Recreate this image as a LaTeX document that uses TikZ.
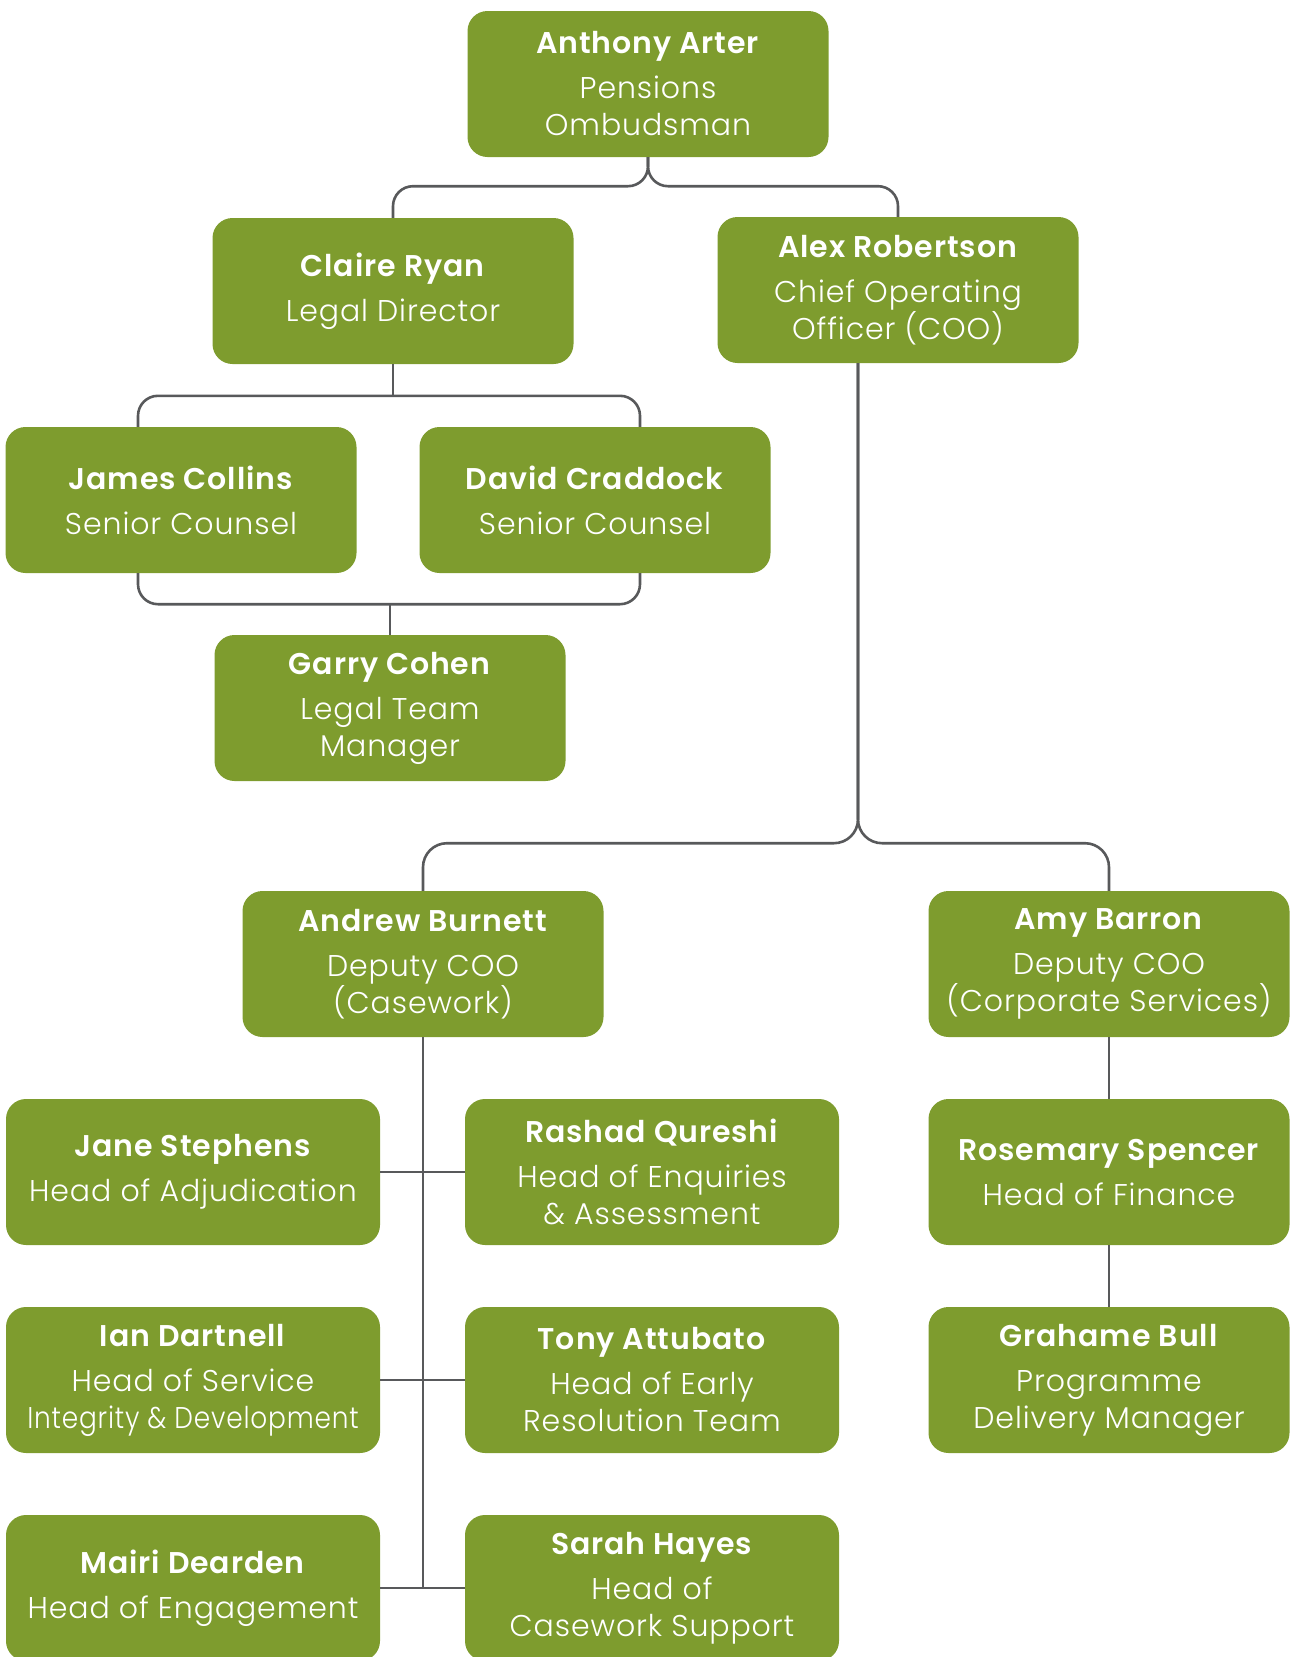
\documentclass[tikz,border=0pt]{standalone}
\usepackage{fontspec}
\usepackage{graphicx}
\setmainfont{Poppins}[UprightFont=* Light,BoldFont=* SemiBold,LetterSpace=3]
\definecolor{pogreen}{HTML}{7E9C2E}
\definecolor{linegray}{HTML}{58595B}
\tikzset{
  post/.style={rectangle,rounded corners=20pt,fill=pogreen,text=white,
    minimum width=361pt,minimum height=146pt,inner sep=0pt,align=center,
    font=\fontsize{30}{37}\selectfont},
  link/.style={draw=linegray,line width=2.6pt}
}
\newcommand{\staff}[2]{\textbf{#1}\\[8pt]#2}

\begin{document}
\begin{tikzpicture}[x=1pt,y=-1pt]
	\useasboundingbox (0,0) rectangle (1290,1657);
	% boxes
	\node[post] (arter) at (648,84) {\staff{Anthony Arter}{Pensions\\Ombudsman}};
	\node[post] (ryan) at (393,291) {\staff{Claire Ryan}{Legal Director}};
	\node[post] (robertson) at (898,290) {\staff{Alex Robertson}{Chief Operating\\Officer (COO)}};
	\node[post,minimum width=351pt] (collins) at (181,500) {\staff{James Collins}{Senior Counsel}};
	\node[post,minimum width=351pt] (craddock) at (595,500) {\staff{David Craddock}{Senior Counsel}};
	\node[post,minimum width=351pt] (cohen) at (390,708) {\staff{Garry Cohen}{Legal Team\\Manager}};
	\node[post] (burnett) at (423,964) {\staff{Andrew Burnett}{Deputy COO\\(Casework)}};
	\node[post] (barron) at (1109,964) {\staff{Amy Barron}{Deputy COO\\(Corporate Services)}};
	\node[post,minimum width=374pt] (stephens) at (193,1172) {\staff{Jane Stephens}{Head of Adjudication}};
	\node[post,minimum width=374pt] (qureshi) at (652,1172) {\staff{Rashad Qureshi}{Head of Enquiries\\\& Assessment}};
	\node[post] (spencer) at (1109,1172) {\staff{Rosemary Spencer}{Head of Finance}};
	\node[post,minimum width=374pt] (dartnell) at (193,1380) {\staff{Ian Dartnell}{Head of Service\\\scalebox{0.88}[1]{Integrity \& Development}}};
	\node[post,minimum width=374pt] (attubato) at (652,1380) {\staff{Tony Attubato}{Head of Early\\Resolution Team}};
	\node[post] (bull) at (1109,1380) {\staff{Grahame Bull}{Programme\\Delivery Manager}};
	\node[post,minimum width=374pt] (dearden) at (193,1588) {\staff{Mairi Dearden}{Head of Engagement}};
	\node[post,minimum width=374pt] (hayes) at (652,1588) {\staff{Sarah Hayes}{Head of\\Casework Support}};
	% connectors
	\draw[link,rounded corners=20pt] (arter.south) -- ++(0,29) -| (ryan.north);
	\draw[link,rounded corners=20pt] (arter.south) -- ++(0,29) -| (robertson.north);
	\draw[link] (ryan.south) -- ++(0,32);
	\draw[link,rounded corners=20pt] ([xshift=-43pt]collins.north) -- ++(0,-31) -| ([xshift=45pt]craddock.north);
	\draw[link,rounded corners=20pt] ([xshift=-43pt]collins.south) -- ++(0,31) -| ([xshift=45pt]craddock.south);
	\draw[link] (cohen.north) -- ++(0,-31);
	\draw[link,rounded corners=24pt] ([xshift=-40pt]robertson.south) -- ++(0,480) -| (burnett.north);
	\draw[link,rounded corners=24pt] ([xshift=-40pt]robertson.south) -- ++(0,480) -| (barron.north);
	\draw[link] (burnett.south) -- (burnett.south |- dearden.east);
	\draw[link] (stephens.east) -- (qureshi.west);
	\draw[link] (dartnell.east) -- (attubato.west);
	\draw[link] (dearden.east) -- (hayes.west);
	\draw[link] (barron.south) -- (spencer.north);
	\draw[link] (spencer.south) -- (bull.north);
\end{tikzpicture}
\end{document}
